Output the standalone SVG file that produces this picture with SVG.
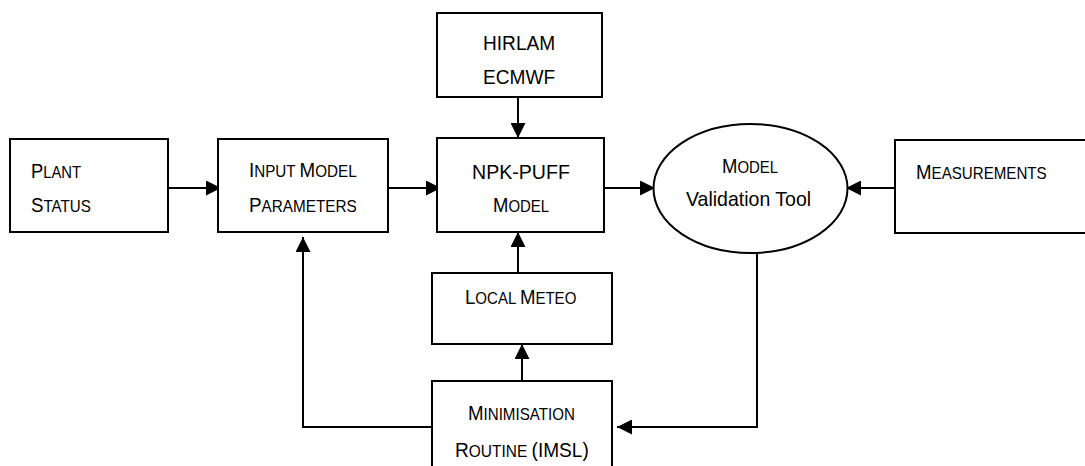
<svg xmlns="http://www.w3.org/2000/svg" width="1085" height="466" viewBox="0 0 1085 466">
<style>
.box{fill:#fff;stroke:#000;stroke-width:2}
.t{font-family:"Liberation Sans",Arial,sans-serif;font-size:17px;fill:#000}
.c{font-size:21px}
.con{fill:none;stroke:#000;stroke-width:2}
</style>
<defs>
<marker id="ah" markerUnits="userSpaceOnUse" markerWidth="15" markerHeight="15" refX="15" refY="7.5" orient="auto">
<path d="M0,0 L15,7.5 L0,15 z" fill="#000"/>
</marker>
</defs>
<rect width="1085" height="466" fill="#fff"/>
<g id="connectors">
<line class="con" x1="168" y1="188" x2="221" y2="188" marker-end="url(#ah)"/>
<line class="con" x1="388" y1="188" x2="441" y2="188" marker-end="url(#ah)"/>
<line class="con" x1="518" y1="97" x2="518" y2="138" marker-end="url(#ah)"/>
<line class="con" x1="604" y1="188" x2="655" y2="188" marker-end="url(#ah)"/>
<line class="con" x1="895" y1="188" x2="846" y2="188" marker-end="url(#ah)"/>
<line class="con" x1="518" y1="273" x2="518" y2="232" marker-end="url(#ah)"/>
<line class="con" x1="522" y1="381" x2="522" y2="344" marker-end="url(#ah)"/>
<polyline class="con" points="432,427 303,427 303,237" marker-end="url(#ah)"/>
<polyline class="con" points="757,253 757,427 617,427" marker-end="url(#ah)"/>
</g>
<g id="plant">
<rect class="box" x="10" y="139" width="158" height="93"/>
<text class="t" transform="translate(31,178) scale(0.87,1)"><tspan class="c">P</tspan>LANT</text>
<text class="t" transform="translate(31,212) scale(0.89,1)"><tspan class="c">S</tspan>TATUS</text>
</g>
<g id="input">
<rect class="box" x="218" y="139" width="170" height="93"/>
<text class="t" transform="translate(249,177) scale(0.895,1)"><tspan class="c">I</tspan>NPUT <tspan class="c">M</tspan>ODEL</text>
<text class="t" transform="translate(249,212) scale(0.9,1)"><tspan class="c">P</tspan>ARAMETERS</text>
</g>
<g id="hirlam">
<rect class="box" x="437" y="13" width="165" height="84"/>
<text class="t c" transform="translate(483,50) scale(0.91,1)">HIRLAM</text>
<text class="t c" transform="translate(483,84) scale(0.91,1)">ECMWF</text>
</g>
<g id="npk">
<rect class="box" x="437" y="138" width="167" height="94"/>
<text class="t c" transform="translate(472,179) scale(0.933,1)">NPK-PUFF</text>
<text class="t" transform="translate(493,212) scale(0.88,1)"><tspan class="c">M</tspan>ODEL</text>
</g>
<g id="validation">
<ellipse class="box" cx="750.5" cy="188.5" rx="97" ry="64.5"/>
<text class="t" transform="translate(722,173) scale(0.88,1)"><tspan class="c">M</tspan>ODEL</text>
<text class="t c" transform="translate(686,206) scale(0.93,1)">Validation Tool</text>
</g>
<g id="measurements">
<rect class="box" x="895" y="140" width="200" height="93"/>
<text class="t" transform="translate(916,179) scale(0.89,1)"><tspan class="c">M</tspan>EASUREMENTS</text>
</g>
<g id="localmeteo">
<rect class="box" x="432" y="273" width="180" height="71"/>
<text class="t" transform="translate(465,304) scale(0.885,1)"><tspan class="c">L</tspan>OCAL <tspan class="c">M</tspan>ETEO</text>
</g>
<g id="minimisation">
<rect class="box" x="432" y="381" width="180" height="100"/>
<text class="t" transform="translate(468,420) scale(0.89,1)"><tspan class="c">M</tspan>INIMISATION</text>
<text class="t" transform="translate(455,457) scale(0.91,1)"><tspan class="c">R</tspan>OUTINE <tspan class="c">(IMSL)</tspan></text>
</g>
</svg>
